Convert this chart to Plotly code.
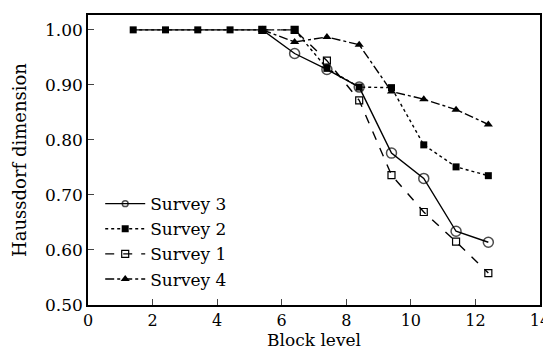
import plotly.graph_objects as go

block = [1.4, 2.4, 3.4, 4.4, 5.4, 6.4, 7.4, 8.4, 9.4, 10.4, 11.4, 12.4]

survey3 = [1.00, 1.00, 1.00, 1.00, 1.00, 0.957, 0.928, 0.896, 0.776, 0.730, 0.634, 0.614]
survey2 = [1.00, 1.00, 1.00, 1.00, 1.00, 1.00, 0.930, 0.896, 0.895, 0.791, 0.751, 0.735]
survey1_x = [5.4, 6.4, 7.4, 8.4, 9.4, 10.4, 11.4, 12.4]
survey1 = [1.00, 1.00, 0.944, 0.872, 0.736, 0.669, 0.615, 0.558]
survey4_x = [5.4, 6.4, 7.4, 8.4, 9.4, 10.4, 11.4, 12.4]
survey4 = [1.00, 0.978, 0.987, 0.973, 0.888, 0.874, 0.855, 0.828]

y_ticks = [0.50, 0.60, 0.70, 0.80, 0.90, 1.00]
x_ticks = [0, 2, 4, 6, 8, 10, 12, 14]

FONT = "DejaVu Serif"

fig = go.Figure()

fig.add_trace(go.Scatter(
    x=survey1_x, y=survey1, name="Survey 1", mode="lines+markers",
    line=dict(color="black", width=1.4, dash="dash"),
    marker=dict(symbol="square-open", size=7, color="black", line=dict(width=1.2)),
    legendrank=3,
))
fig.add_trace(go.Scatter(
    x=survey4_x, y=survey4, name="Survey 4", mode="lines+markers",
    line=dict(color="black", width=1.4, dash="dashdot"),
    marker=dict(symbol="triangle-up", size=8, color="black"),
    legendrank=4,
))
fig.add_trace(go.Scatter(
    x=block, y=survey3, name="Survey 3", mode="lines+markers",
    line=dict(color="black", width=1.4),
    marker=dict(symbol="circle-open", size=[0, 0, 0, 0, 0, 10, 10, 10, 10, 10, 10, 10],
                color="black", line=dict(width=1.5)),
    legendrank=1,
))
fig.add_trace(go.Scatter(
    x=block, y=survey2, name="Survey 2", mode="lines+markers",
    line=dict(color="black", width=1.4, dash="dot"),
    marker=dict(symbol="square", size=7, color="black"),
    legendrank=2,
))

# page body has an 8px margin, so the figure is shrunk by 8px to fit the window
fig.update_layout(
    width=543, height=346,
    margin=dict(l=80, r=11, t=7, b=49),
    paper_bgcolor="white", plot_bgcolor="white",
    font=dict(family=FONT, size=17, color="black"),
    showlegend=True,
    legend=dict(x=0.027, y=0.41, xanchor="left", yanchor="top",
                bgcolor="rgba(0,0,0,0)", font=dict(size=17, family=FONT),
                tracegroupgap=0, itemwidth=40),
    xaxis=dict(range=[0, 14], tickvals=x_ticks, ticks="inside", ticklen=6,
               tickfont=dict(size=16, family=FONT),
               showline=True, linecolor="black", linewidth=1.5, mirror=True,
               showgrid=False, zeroline=False, automargin=False,
               title=dict(text="Block level", font=dict(size=17, family=FONT), standoff=4)),
    yaxis=dict(range=[0.5, 1.027], tickvals=y_ticks, tickformat=".2f",
               ticks="inside", ticklen=6,
               showline=True, linecolor="black", linewidth=1.5, mirror=True,
               showgrid=False, zeroline=False, automargin=False,
               title=dict(text="Haussdorf dimension", font=dict(size=18, family=FONT), standoff=14)),
)

fig.write_html("out.html")
